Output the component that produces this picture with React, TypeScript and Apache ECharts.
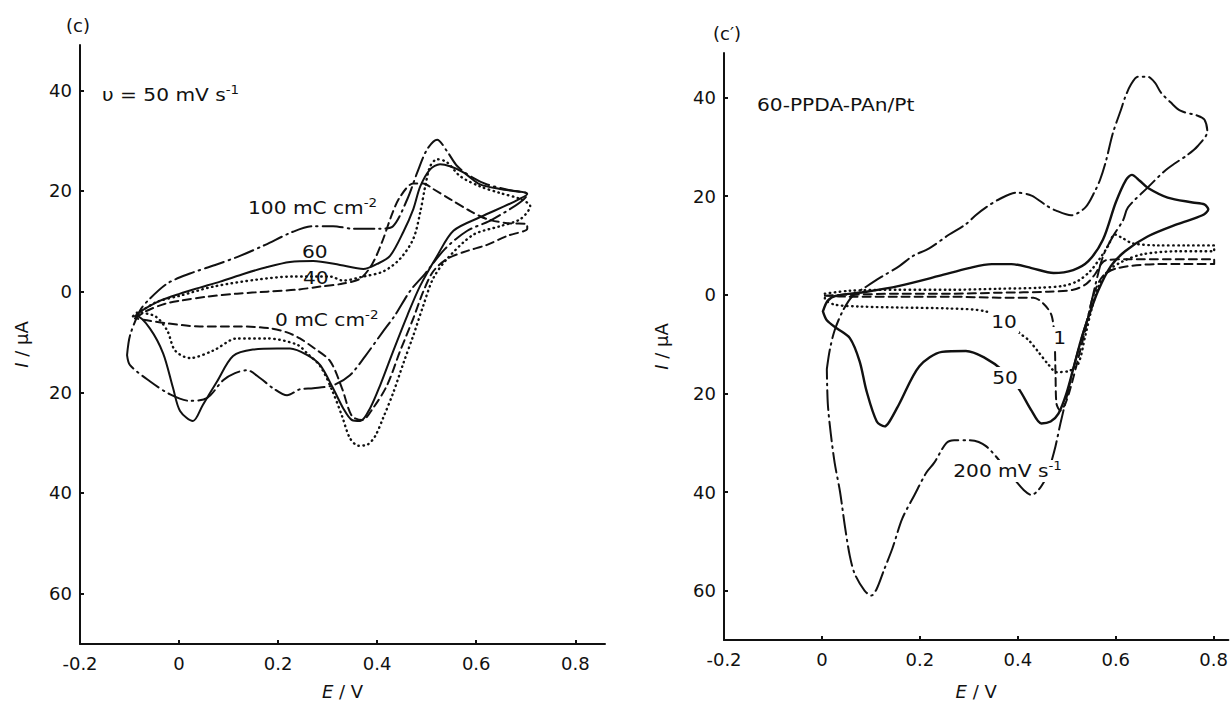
import React, { useEffect, useRef } from 'react';
import * as echarts from 'echarts';

type Pt = [number, number];

const FONT = '"DejaVu Sans", "Liberation Sans", sans-serif';
const INK = '#111';

const xTicks = [-0.2, 0, 0.2, 0.4, 0.6, 0.8];
const yTicks = [-60, -40, -20, 0, 20, 40];

// Panel (c): films of different deposition charge, v = 50 mV s-1  [E / V, I / uA]
const c100: Pt[] = [
  [-0.105, -12.6], [-0.099, -8.7], [-0.079, -3.8], [-0.063, -1.8], [-0.024, 1.6], [0.022, 3.6],
  [0.073, 5.3], [0.123, 7.1], [0.174, 9.3], [0.23, 11.9], [0.271, 13.0], [0.311, 13.0],
  [0.352, 12.5], [0.406, 12.5], [0.432, 13.0], [0.461, 18.4], [0.481, 23.7], [0.501, 28.3],
  [0.521, 30.2], [0.541, 27.9], [0.562, 24.9], [0.592, 22.7], [0.622, 21.3], [0.675, 20.0],
  [0.703, 19.4], [0.634, 14.4], [0.582, 12.1], [0.537, 8.5], [0.497, 3.6], [0.467, 0.2],
  [0.436, -4.7], [0.412, -7.9], [0.376, -12.8], [0.345, -16.6], [0.311, -18.6], [0.271, -19.2],
  [0.244, -19.4], [0.218, -20.6], [0.19, -19.2], [0.164, -17.2], [0.137, -15.6], [0.113, -16.2],
  [0.089, -17.6], [0.057, -21.1], [0.022, -21.7], [-0.018, -20.4], [-0.059, -17.8],
  [-0.099, -14.6], [-0.105, -12.6],
];

const c60: Pt[] = [
  [-0.089, -4.9], [-0.079, -4.0], [-0.038, -1.8], [0.002, -0.4], [0.042, 0.8], [0.083, 2.0],
  [0.133, 3.6], [0.178, 4.9], [0.224, 5.9], [0.271, 6.1], [0.325, 5.3], [0.372, 4.5],
  [0.4, 5.5], [0.426, 7.1], [0.453, 11.9], [0.473, 16.4], [0.487, 20.9], [0.507, 24.3],
  [0.527, 25.3], [0.547, 24.9], [0.574, 23.7], [0.608, 21.3], [0.648, 20.4], [0.703, 19.4],
  [0.675, 17.8], [0.608, 14.8], [0.554, 12.1], [0.521, 7.1], [0.487, 1.2], [0.461, -4.7],
  [0.432, -11.9], [0.406, -18.6], [0.386, -23.1], [0.366, -25.7], [0.349, -25.5],
  [0.331, -23.1], [0.311, -19.2], [0.285, -14.6], [0.259, -12.6], [0.224, -11.3],
  [0.198, -11.3], [0.149, -11.5], [0.109, -12.8], [0.077, -17.8], [0.048, -22.5],
  [0.028, -25.7], [0.002, -23.7], [-0.012, -19.2], [-0.032, -12.3], [-0.059, -7.3],
  [-0.085, -4.9], [-0.089, -4.9],
];

const c40: Pt[] = [
  [-0.093, -4.9], [-0.069, -3.4], [-0.044, -2.0], [0.002, -0.8], [0.069, 1.0], [0.158, 2.4],
  [0.23, 3.0], [0.305, 3.0], [0.331, 2.2], [0.372, 3.0], [0.412, 4.0], [0.446, 6.5],
  [0.473, 10.5], [0.487, 15.8], [0.497, 20.9], [0.507, 24.9], [0.521, 26.3], [0.541, 25.7],
  [0.568, 22.9], [0.608, 20.9], [0.648, 19.6], [0.689, 18.4], [0.709, 17.0], [0.689, 14.4],
  [0.648, 13.0], [0.594, 11.3], [0.541, 6.5], [0.513, 2.6], [0.493, -2.8], [0.473, -8.7],
  [0.453, -14.2], [0.432, -20.2], [0.412, -25.1], [0.396, -28.7], [0.38, -30.4],
  [0.362, -30.6], [0.345, -29.1], [0.329, -24.7], [0.309, -19.6], [0.285, -14.8],
  [0.259, -12.3], [0.238, -10.5], [0.178, -9.3], [0.117, -9.3], [0.069, -11.7],
  [0.022, -13.2], [-0.008, -11.7], [-0.024, -7.7], [-0.048, -4.9], [-0.085, -4.2],
  [-0.093, -4.9],
];

const c0: Pt[] = [
  [-0.089, -5.3], [-0.065, -3.8], [-0.028, -2.4], [0.002, -1.8], [0.057, -1.0], [0.117, -0.4],
  [0.178, 0.0], [0.238, 0.4], [0.285, 1.0], [0.331, 1.6], [0.366, 2.6], [0.39, 5.5],
  [0.41, 9.9], [0.43, 15.4], [0.446, 18.8], [0.473, 21.5], [0.493, 21.5], [0.513, 20.4],
  [0.547, 18.4], [0.588, 16.0], [0.622, 14.4], [0.663, 13.6], [0.703, 13.4], [0.703, 12.5],
  [0.663, 11.1], [0.622, 9.3], [0.582, 8.1], [0.541, 6.5], [0.513, 4.0], [0.493, 0.0],
  [0.473, -5.3], [0.446, -11.9], [0.42, -18.6], [0.392, -23.1], [0.37, -25.5],
  [0.349, -24.7], [0.329, -19.2], [0.305, -13.8], [0.271, -11.1], [0.244, -9.3],
  [0.218, -8.1], [0.184, -7.3], [0.123, -6.9], [0.042, -6.9], [-0.024, -6.3],
  [-0.065, -5.7], [-0.089, -5.3],
];

// Panel (c'): 60-PPDA-PAn/Pt at different scan rates  [E / V, I / uA]
const r200: Pt[] = [
  [0.01, -15.1], [0.016, -11.2], [0.026, -7.2], [0.043, -3.2], [0.063, -0.2], [0.087, 1.4],
  [0.118, 3.4], [0.158, 5.8], [0.185, 7.8], [0.219, 9.4], [0.26, 12.2], [0.294, 14.3],
  [0.314, 16.1], [0.335, 17.7], [0.361, 19.3], [0.396, 20.7], [0.428, 20.1], [0.458, 18.1],
  [0.477, 17.1], [0.509, 16.1], [0.538, 17.7], [0.558, 21.1], [0.568, 23.3], [0.58, 27.1],
  [0.594, 32.7], [0.611, 37.6], [0.619, 40.0], [0.631, 42.6], [0.645, 44.2], [0.665, 44.2],
  [0.68, 43.0], [0.692, 41.0], [0.712, 39.0], [0.732, 37.3], [0.767, 36.3], [0.781, 35.5],
  [0.787, 33.1], [0.767, 30.1], [0.746, 28.3], [0.722, 26.7], [0.7, 25.1], [0.665, 21.7],
  [0.625, 17.7], [0.615, 15.1], [0.594, 11.8], [0.574, 7.8], [0.558, 1.8], [0.544, -4.2],
  [0.529, -9.2], [0.513, -15.1], [0.499, -21.1], [0.487, -26.1], [0.477, -30.7],
  [0.462, -36.1], [0.456, -37.5], [0.442, -39.6], [0.428, -40.6], [0.412, -39.6],
  [0.387, -36.7], [0.335, -30.7], [0.3, -29.5], [0.27, -29.5], [0.254, -30.1], [0.229, -34.1],
  [0.213, -36.1], [0.189, -40.6], [0.164, -45.4], [0.144, -51.4], [0.126, -56.0],
  [0.112, -59.6], [0.101, -61.0], [0.087, -60.0], [0.067, -56.6], [0.057, -53.0],
  [0.047, -47.0], [0.037, -40.0], [0.026, -34.1], [0.018, -28.1], [0.012, -22.1],
  [0.01, -15.1],
];

const r50: Pt[] = [
  [0.002, -3.4], [0.012, -1.2], [0.03, -0.2], [0.091, 0.6], [0.158, 1.8], [0.239, 3.8],
  [0.3, 5.4], [0.347, 6.2], [0.387, 6.2], [0.428, 5.4], [0.473, 4.4], [0.513, 5.0],
  [0.544, 6.8], [0.574, 11.2], [0.6, 18.7], [0.621, 23.3], [0.633, 24.3], [0.649, 23.1],
  [0.665, 21.7], [0.706, 19.7], [0.757, 18.7], [0.781, 18.3], [0.789, 17.3], [0.777, 16.1],
  [0.726, 14.3], [0.665, 11.8], [0.619, 8.8], [0.59, 5.8], [0.564, 0.8], [0.544, -4.6],
  [0.529, -9.2], [0.513, -15.1], [0.499, -20.1], [0.483, -24.1], [0.467, -25.7],
  [0.448, -26.1], [0.428, -23.5], [0.402, -19.1], [0.371, -15.5], [0.331, -12.7],
  [0.294, -11.4], [0.245, -11.6], [0.199, -14.5], [0.158, -22.1], [0.138, -25.7],
  [0.128, -26.7], [0.112, -25.7], [0.091, -19.5], [0.077, -13.5], [0.057, -8.8],
  [0.03, -6.8], [0.01, -5.2], [0.002, -3.4],
];

const r10: Pt[] = [
  [0.006, 0.2], [0.057, 0.8], [0.158, 1.0], [0.26, 1.0], [0.361, 1.2], [0.442, 1.4],
  [0.493, 1.8], [0.523, 2.8], [0.548, 4.8], [0.568, 7.4], [0.584, 9.8], [0.598, 12.2],
  [0.615, 11.4], [0.635, 10.4], [0.686, 10.0], [0.746, 10.0], [0.801, 10.0], [0.801, 8.8],
  [0.726, 8.8], [0.655, 8.2], [0.615, 6.8], [0.584, 4.8], [0.564, 1.4], [0.55, -3.2],
  [0.538, -8.2], [0.523, -14.1], [0.503, -15.5], [0.479, -15.7], [0.462, -14.1],
  [0.442, -11.6], [0.422, -9.2], [0.402, -7.6], [0.396, -6.2], [0.335, -3.4], [0.26, -2.8],
  [0.158, -2.6], [0.077, -2.4], [0.026, -2.0], [0.006, -0.8], [0.006, 0.2],
];

const r1: Pt[] = [
  [0.006, -0.2], [0.057, 0.0], [0.158, 0.2], [0.26, 0.2], [0.361, 0.4], [0.462, 0.6],
  [0.513, 1.0], [0.54, 2.2], [0.558, 4.2], [0.57, 6.2], [0.58, 7.0], [0.625, 7.2],
  [0.706, 7.2], [0.801, 7.2], [0.801, 6.2], [0.686, 6.2], [0.604, 5.4], [0.574, 3.8],
  [0.554, -0.2], [0.54, -6.2], [0.523, -13.1], [0.507, -19.1], [0.497, -22.1],
  [0.487, -23.5], [0.479, -22.1], [0.477, -16.1], [0.475, -9.2], [0.469, -4.2],
  [0.452, -1.8], [0.432, -0.6], [0.361, -0.6], [0.26, -0.4], [0.158, -0.4], [0.057, -0.4],
  [0.006, -0.2],
];

const SOLID = 'solid';
const DASHED = [8, 5];
const DOTTED = [0.5, 4.5];
const DASHDOT = [20, 5, 1.5, 5];

const fmtX = (v: number) => (v === 0 ? '0' : v.toFixed(1));
const fmtY = (v: number) => String(Math.abs(Math.round(v)));

const tickText = { color: INK, fontFamily: FONT, fontSize: 18 };
const nameStyle = {
  color: INK,
  fontFamily: FONT,
  fontSize: 18,
  rich: { i: { fontStyle: 'italic', fontFamily: FONT, fontSize: 18, color: INK } },
};

function xAxis(gridIndex: number, max: number, nameGap: number) {
  return {
    type: 'value',
    gridIndex,
    min: -0.2,
    max,
    name: '{i|E} / V',
    nameLocation: 'middle',
    nameGap,
    nameTextStyle: nameStyle,
    axisLine: { show: true, onZero: false, lineStyle: { color: INK, width: 2 } },
    axisTick: { show: true, inside: true, length: 4, customValues: xTicks, lineStyle: { color: INK, width: 2 } },
    axisLabel: { ...tickText, margin: 10, customValues: xTicks, formatter: fmtX },
    splitLine: { show: false },
  };
}

function yAxis(gridIndex: number, nameGap: number) {
  return {
    type: 'value',
    gridIndex,
    min: -70,
    max: 49,
    name: '{i|I} / μA',
    nameLocation: 'middle',
    nameGap,
    nameTextStyle: nameStyle,
    axisLine: { show: true, onZero: false, lineStyle: { color: INK, width: 2 } },
    axisTick: { show: true, inside: true, length: 4, customValues: yTicks, lineStyle: { color: INK, width: 2 } },
    axisLabel: { ...tickText, margin: 8, customValues: yTicks, formatter: fmtY },
    splitLine: { show: false },
  };
}

function curve(name: string, data: Pt[], axis: number, type: any, width = 2) {
  return {
    name,
    type: 'line',
    xAxisIndex: axis,
    yAxisIndex: axis,
    data,
    showSymbol: false,
    smooth: 0.3,
    lineStyle: { color: INK, width, type, cap: 'round', join: 'round' },
    z: 3,
  };
}

const RICH = {
  sup: { fontSize: 12, lineHeight: 12, verticalAlign: 'top', fontFamily: FONT, fill: INK },
};

function label(x: number, y: number, text: string, opts: any = {}) {
  const { align = 'left', bg, scale = 1.12 } = opts;
  return {
    type: 'text',
    x,
    y,
    z: 100,
    scaleX: scale,
    style: {
      text,
      fill: INK,
      fontFamily: FONT,
      fontSize: 18,
      lineHeight: 22,
      align,
      verticalAlign: 'middle',
      rich: RICH,
      ...(bg ? { backgroundColor: '#fff', padding: [0, 2, 0, 2] } : {}),
    },
  };
}

const option = {
  animation: false,
  backgroundColor: '#fff',
  grid: [
    { left: 80, top: 45, width: 525, height: 602 },
    { left: 724, top: 53, width: 507, height: 595 },
  ],
  xAxis: [xAxis(0, 0.86, 38), xAxis(1, 0.83, 42)],
  yAxis: [yAxis(0, 50), yAxis(1, 54)],
  series: [
    curve('100 mC cm-2', c100, 0, DASHDOT),
    curve('60', c60, 0, SOLID),
    curve('40', c40, 0, DOTTED, 2.4),
    curve('0 mC cm-2', c0, 0, DASHED),
    curve('200 mV s-1', r200, 1, DASHDOT),
    curve('50', r50, 1, SOLID, 2.4),
    curve('10', r10, 1, DOTTED, 2.4),
    curve('1', r1, 1, DASHED),
  ],
  graphic: [
    label(78, 25, '(c)', { align: 'center', scale: 1 }),
    label(102, 95, 'υ = 50 mV s{sup|-1}'),
    label(248, 208, '100 mC cm{sup|-2}'),
    label(302, 252, '60'),
    label(303, 278, '40'),
    label(275, 320, '0 mC cm{sup|-2}'),
    label(727, 33, '(c′)', { align: 'center', scale: 1 }),
    label(757, 105, '60-PPDA-PAn/Pt'),
    label(989, 322, '10', { bg: true }),
    label(1051, 338, '1', { bg: true }),
    label(990, 378, '50', { bg: true }),
    label(951, 471, '200 mV s{sup|-1}', { bg: true }),
  ],
};

export default function App() {
  const ref = useRef<HTMLDivElement>(null);
  useEffect(() => {
    const chart = echarts.init(ref.current!, undefined, { renderer: 'svg' });
    chart.setOption(option as any);
    return () => chart.dispose();
  }, []);
  return (
    <div
      ref={ref}
      style={{ position: 'absolute', left: 0, top: 0, width: 1231, height: 705, background: '#fff' }}
    />
  );
}
